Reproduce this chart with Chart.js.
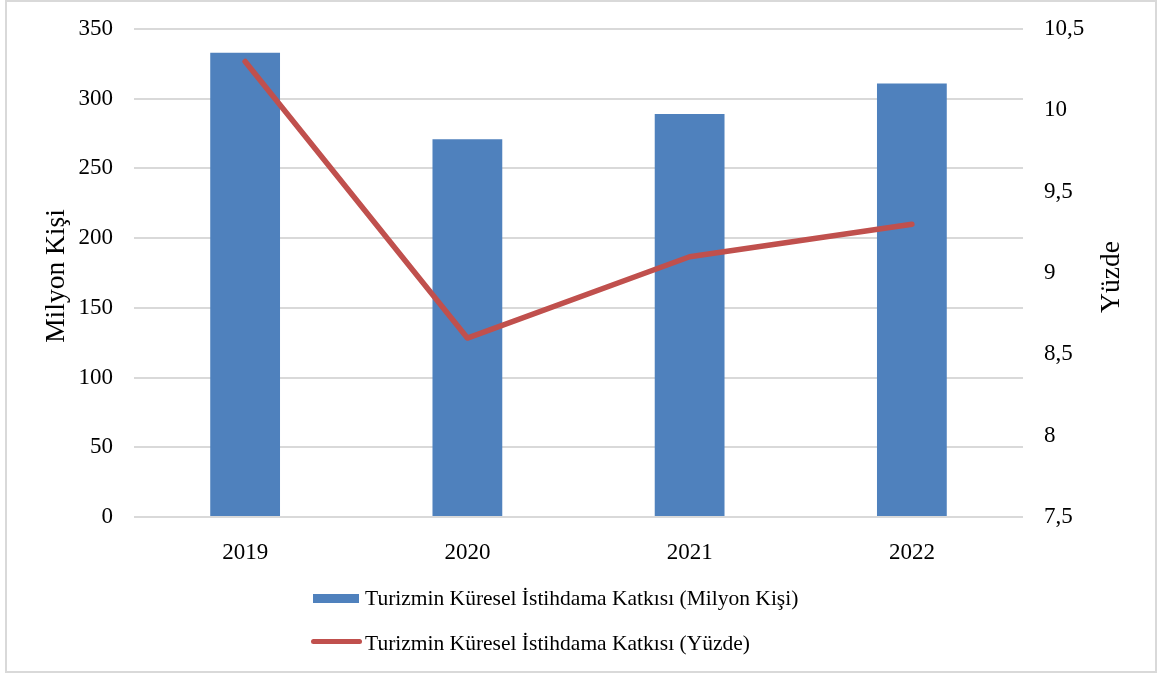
<!DOCTYPE html>
<html>
<head>
<meta charset="utf-8">
<script src="https://cdn.jsdelivr.net/npm/chart.js@4/dist/chart.umd.min.js"></script>
<style>
  html, body { margin: 0; padding: 0; background: #fff; }
  #wrap { position: relative; width: 1161px; height: 675px; font-family: "Liberation Serif", "Times New Roman", serif; color: #000; }
  #frame { position: absolute; left: 5px; top: 0px; width: 1148px; height: 669px; border: 2px solid #d9d9d9; pointer-events: none; }
  canvas { position: absolute; left: 0; top: 0; }
  .ytitle { position: absolute; font-size: 27.5px; white-space: nowrap; transform: translate(-50%, -50%) rotate(-90deg); }
  .leg { position: absolute; font-size: 21.5px; white-space: nowrap; line-height: 1; }
  .sw-bar { position: absolute; left: 313px; top: 594px; width: 46px; height: 9px; background: #4F81BD; }
  .sw-line { position: absolute; left: 311px; top: 639px; width: 51px; height: 5px; background: #C0504D; border-radius: 3px; }
</style>
</head>
<body>
<div id="wrap">
  <canvas id="c" width="1161" height="675"></canvas>
  <div id="frame"></div>
  <div class="ytitle" style="left:55px; top:276px;">Milyon Kişi</div>
  <div class="ytitle" style="left:1110px; top:277px;">Yüzde</div>
  <div class="sw-bar"></div>
  <div class="leg" id="leg1" style="left:365px; top:588px;"></div>
  <div class="sw-line"></div>
  <div class="leg" id="leg2" style="left:365px; top:633px;"></div>
</div>
<script>
const years = ["2019", "2020", "2021", "2022"];
const employmentMillion = [333, 271, 289, 311];
const employmentPercent = [10.3, 8.6, 9.1, 9.3];
const seriesNames = [
  "Turizmin Küresel İstihdama Katkısı (Milyon Kişi)",
  "Turizmin Küresel İstihdama Katkısı (Yüzde)"
];
const leftTicks = [0, 50, 100, 150, 200, 250, 300, 350];
const rightTicks = [7.5, 8, 8.5, 9, 9.5, 10, 10.5];

document.getElementById('leg1').textContent = seriesNames[0];
document.getElementById('leg2').textContent = seriesNames[1];

const tickFont = { family: "Liberation Serif", size: 23 };

new Chart(document.getElementById('c'), {
  data: {
    labels: years,
    datasets: [
      {
        type: 'line',
        label: seriesNames[1],
        data: employmentPercent,
        yAxisID: 'y2',
        borderColor: '#C0504D',
        backgroundColor: '#C0504D',
        borderWidth: 5.5,
        pointRadius: 0,
        pointHoverRadius: 0,
        borderCapStyle: 'round',
        borderJoinStyle: 'round',
        tension: 0,
        order: 1
      },
      {
        type: 'bar',
        label: seriesNames[0],
        data: employmentMillion,
        yAxisID: 'y',
        backgroundColor: '#4F81BD',
        borderWidth: 0,
        barPercentage: 0.314,
        categoryPercentage: 1.0,
        order: 2
      }
    ]
  },
  options: {
    responsive: false,
    animation: false,
    layout: { padding: { top: 29, bottom: 0, left: 0, right: 0 } },
    plugins: { legend: { display: false }, tooltip: { enabled: false } },
    scales: {
      x: {
        grid: { display: false },
        border: { display: false },
        ticks: { font: tickFont, color: '#000', padding: 14, maxRotation: 0 },
        afterFit: s => { s.height = 158; s.paddingLeft = 0; s.paddingRight = 0; }
      },
      y: {
        position: 'left',
        min: leftTicks[0],
        max: leftTicks[leftTicks.length - 1],
        afterBuildTicks: s => { s.ticks = leftTicks.map(v => ({ value: v })); },
        grid: { color: '#d9d9d9', lineWidth: 2, drawTicks: false },
        border: { display: false },
        ticks: { font: tickFont, color: '#000', padding: 21 },
        afterFit: s => { s.width = 134; s.paddingTop = 0; s.paddingBottom = 0; }
      },
      y2: {
        position: 'right',
        min: rightTicks[0],
        max: rightTicks[rightTicks.length - 1],
        afterBuildTicks: s => { s.ticks = rightTicks.map(v => ({ value: v })); },
        grid: { display: false, drawTicks: false },
        border: { display: false },
        ticks: {
          font: tickFont, color: '#000', padding: 21,
          callback: v => String(v).replace('.', ',')
        },
        afterFit: s => { s.width = 138; s.paddingTop = 0; s.paddingBottom = 0; }
      }
    }
  }
});
</script>
</body>
</html>
